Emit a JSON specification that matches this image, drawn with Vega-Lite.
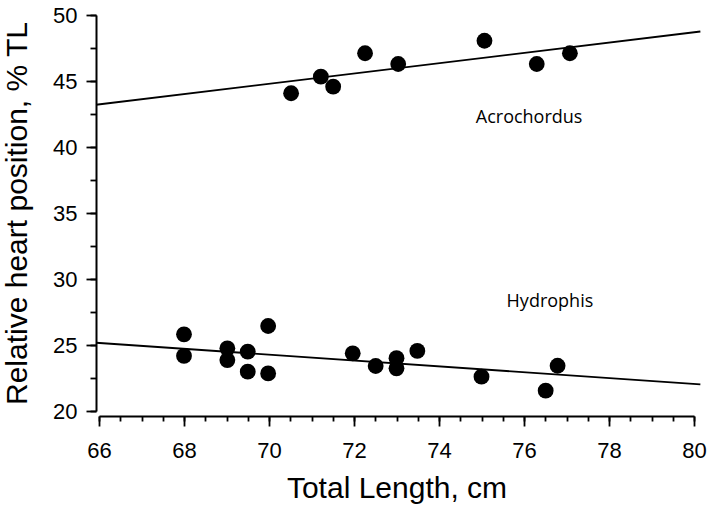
{
  "$schema": "https://vega.github.io/schema/vega-lite/v6.json",
  "width": 595,
  "height": 396,
  "autosize": "none",
  "padding": {"left": 99, "top": 15, "right": 20, "bottom": 106},
  "background": "white",
  "config": {
    "view": {"stroke": null},
    "axis": {
      "grid": false,
      "domainColor": "black",
      "domainWidth": 2,
      "tickColor": "black",
      "tickWidth": 1.8,
      "labelColor": "black",
      "labelFont": "Liberation Sans",
      "labelFontSize": 22,
      "labelFlush": false,
      "titleColor": "black",
      "titleFont": "Liberation Sans",
      "titleFontSize": 30,
      "titleFontWeight": "normal"
    }
  },
  "datasets": {
    "points": [
      {"species": "Acrochordus", "x": 70.52, "y": 44.07},
      {"species": "Acrochordus", "x": 71.22, "y": 45.33},
      {"species": "Acrochordus", "x": 71.51, "y": 44.57},
      {"species": "Acrochordus", "x": 72.26, "y": 47.1},
      {"species": "Acrochordus", "x": 73.04, "y": 46.29},
      {"species": "Acrochordus", "x": 75.07, "y": 48.05},
      {"species": "Acrochordus", "x": 76.3, "y": 46.29},
      {"species": "Acrochordus", "x": 77.08, "y": 47.1},
      {"species": "Hydrophis", "x": 68.0, "y": 25.81},
      {"species": "Hydrophis", "x": 68.0, "y": 24.17},
      {"species": "Hydrophis", "x": 69.02, "y": 24.75},
      {"species": "Hydrophis", "x": 69.02, "y": 23.86},
      {"species": "Hydrophis", "x": 69.5, "y": 24.5},
      {"species": "Hydrophis", "x": 69.5, "y": 22.98},
      {"species": "Hydrophis", "x": 69.98, "y": 26.44},
      {"species": "Hydrophis", "x": 69.98, "y": 22.85},
      {"species": "Hydrophis", "x": 71.97, "y": 24.37},
      {"species": "Hydrophis", "x": 72.51, "y": 23.41},
      {"species": "Hydrophis", "x": 73.0, "y": 24.0},
      {"species": "Hydrophis", "x": 73.0, "y": 23.23},
      {"species": "Hydrophis", "x": 73.49, "y": 24.55},
      {"species": "Hydrophis", "x": 75.0, "y": 22.6},
      {"species": "Hydrophis", "x": 76.79, "y": 23.43},
      {"species": "Hydrophis", "x": 76.51, "y": 21.54}
    ],
    "fits": [
      {"species": "Acrochordus", "x": 65.93, "y": 43.2},
      {"species": "Acrochordus", "x": 80.15, "y": 48.75},
      {"species": "Hydrophis", "x": 65.93, "y": 25.17},
      {"species": "Hydrophis", "x": 80.15, "y": 22.02}
    ],
    "labels": [
      {"text": "Acrochordus", "x": 76.12, "y": 42.2},
      {"text": "Hydrophis", "x": 76.61, "y": 28.26}
    ]
  },
  "layer": [
    {
      "data": {"name": "fits"},
      "mark": {"type": "line", "color": "black", "strokeWidth": 1.8},
      "encoding": {
        "x": {
          "field": "x", "type": "quantitative",
          "scale": {"domain": [66, 80], "zero": false, "nice": false},
          "axis": {
            "orient": "bottom", "offset": 5, "domain": false, "labels": false, "title": null,
            "tickSize": 5, "tickColor": "black", "tickWidth": 1.8,
            "values": [66, 66.5, 67, 67.5, 68, 68.5, 69, 69.5, 70, 70.5, 71, 71.5, 72, 72.5, 73, 73.5, 74, 74.5, 75, 75.5, 76, 76.5, 77, 77.5, 78, 78.5, 79, 79.5, 80]
          }
        },
        "y": {
          "field": "y", "type": "quantitative",
          "scale": {"domain": [20, 50], "zero": false, "nice": false},
          "axis": {
            "orient": "left", "offset": 3, "domain": false, "labels": false, "title": null,
            "tickSize": 6, "tickColor": "black", "tickWidth": 1.8,
            "values": [20, 22.5, 25, 27.5, 30, 32.5, 35, 37.5, 40, 42.5, 45, 47.5, 50]
          }
        },
        "detail": {"field": "species"}
      }
    },
    {
      "data": {"name": "points"},
      "mark": {"type": "circle", "color": "black", "opacity": 1, "size": 250},
      "encoding": {
        "x": {
          "field": "x", "type": "quantitative",
          "axis": {
            "orient": "bottom", "offset": 5, "title": "Total Length, cm",
            "tickSize": 10, "labelPadding": 14, "titlePadding": 12,
            "labelFont": "Liberation Sans", "labelFontSize": 22, "labelColor": "black", "labelFlush": false,
            "titleFont": "Liberation Sans", "titleFontSize": 30, "titleColor": "black", "titleFontWeight": "normal",
            "domainColor": "black", "domainWidth": 2, "tickColor": "black", "tickWidth": 1.8,
            "values": [66, 68, 70, 72, 74, 76, 78, 80]
          }
        },
        "y": {
          "field": "y", "type": "quantitative",
          "axis": {
            "orient": "left", "offset": 3, "title": "Relative heart position, % TL",
            "tickSize": 10, "labelPadding": 9, "titlePadding": 20,
            "labelFont": "Liberation Sans", "labelFontSize": 22, "labelColor": "black",
            "titleFont": "Liberation Sans", "titleFontSize": 30, "titleColor": "black", "titleFontWeight": "normal",
            "domainColor": "black", "domainWidth": 2, "tickColor": "black", "tickWidth": 1.8,
            "values": [20, 25, 30, 35, 40, 45, 50]
          }
        }
      }
    },
    {
      "data": {"name": "labels"},
      "mark": {"type": "text", "font": "Open Sans", "fontSize": 18, "color": "black", "align": "center", "baseline": "middle"},
      "encoding": {
        "x": {"field": "x", "type": "quantitative", "axis": null},
        "y": {"field": "y", "type": "quantitative", "axis": null},
        "text": {"field": "text"}
      }
    }
  ],
  "resolve": {"axis": {"x": "independent", "y": "independent"}}
}
